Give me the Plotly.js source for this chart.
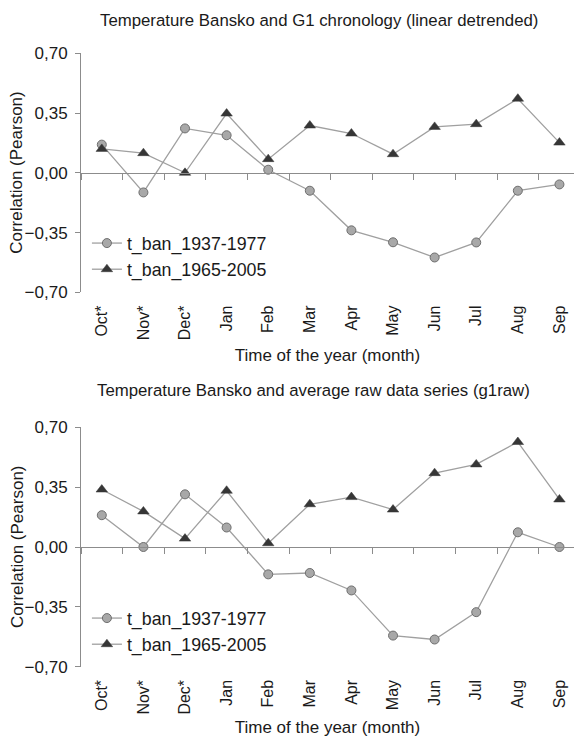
<!DOCTYPE html>
<html>
<head>
<meta charset="utf-8">
<script src="https://cdn.plot.ly/plotly-3.0.1.min.js"></script>
<style>html,body{margin:0;padding:0;background:#fff;}#chart{width:574px;height:739px;}</style>
</head>
<body>
<div id="chart"></div>
<script>
const months = ['Oct*','Nov*','Dec*','Jan','Feb','Mar','Apr','May','Jun','Jul','Aug','Sep'];
const seriesNames = ['t_ban_1937-1977','t_ban_1965-2005'];
const top1937 = [0.165, -0.115, 0.26, 0.22, 0.018, -0.105, -0.337, -0.407, -0.496, -0.408, -0.105, -0.068];
const top1965 = [0.14, 0.115, 0.0, 0.347, 0.08, 0.277, 0.23, 0.109, 0.269, 0.285, 0.434, 0.177];
const bot1937 = [0.186, 0.0, 0.308, 0.114, -0.16, -0.152, -0.254, -0.518, -0.541, -0.381, 0.086, 0.0];
const bot1965 = [0.336, 0.208, 0.049, 0.329, 0.022, 0.25, 0.292, 0.219, 0.432, 0.483, 0.614, 0.278];
const titles = ['Temperature Bansko and G1 chronology (linear detrended)',
                'Temperature Bansko and average raw data series (g1raw)'];
const xTitle = 'Time of the year (month)';
const yTitle = 'Correlation (Pearson)';

const W = 574, H = 739;
const FONT = 'Liberation Sans, Arial, Helvetica, sans-serif';
const TXT = '#1a1a1a';
const axisCol = '#8c8c8c';
const lineCol = '#a0a0a0';
const yRange = [-0.7, 0.7];
const xRange = [-0.5, 11.35];
const topDom = [1 - 292.3 / H, 1 - 53.3 / H];
const botDom = [1 - 666.7 / H, 1 - 427.3 / H];
function zeroPos(d) { return d[0] + (0 - yRange[0]) / (yRange[1] - yRange[0]) * (d[1] - d[0]); }

function circ(x, y, xa, ya, lg) {
  return {x: x, y: y, xaxis: xa, yaxis: ya, type: 'scatter', mode: 'lines+markers',
    name: seriesNames[0], legend: lg, showlegend: true,
    line: {color: lineCol, width: 1.3},
    marker: {symbol: 'circle', size: 9, color: '#a8a8a8', line: {color: '#6e6e6e', width: 1}}};
}
function tri(x, y, xa, ya, lg) {
  return {x: x, y: y, xaxis: xa, yaxis: ya, type: 'scatter', mode: 'lines+markers',
    name: seriesNames[1], legend: lg, showlegend: true,
    line: {color: lineCol, width: 1.3},
    marker: {symbol: 'triangle-up', size: 10, color: '#363636', line: {color: '#363636', width: 0.5}}};
}

const data = [
  circ(months, top1937, 'x', 'y', 'legend'),
  tri(months, top1965, 'x2', 'y', 'legend'),
  circ(months, bot1937, 'x3', 'y2', 'legend2'),
  tri(months, bot1965, 'x4', 'y2', 'legend2')
];

function labelAxis(anchor, standoff) {
  return {anchor: anchor, type: 'category', categoryorder: 'array', categoryarray: months,
    range: xRange, showline: false, ticks: '', showgrid: false, zeroline: false, automargin: false,
    tickangle: -90, tickfont: {family: FONT, size: 16, color: TXT},
    ticklabelstandoff: 9,
    title: {text: xTitle, font: {family: FONT, size: 17, color: TXT}, standoff: standoff}};
}
function zeroAxis(over, dom) {
  return {overlaying: over, anchor: 'free', position: zeroPos(dom), type: 'category',
    categoryorder: 'array', categoryarray: months, range: xRange, automargin: false,
    showline: true, linecolor: axisCol, linewidth: 1, ticks: 'outside', tickson: 'boundaries',
    ticklen: 6, tickcolor: axisCol, tickwidth: 1, showticklabels: false, showgrid: false, zeroline: false};
}
function yAxis(dom) {
  return {domain: dom, range: yRange, tick0: -0.7, dtick: 0.35, tickformat: '.2f', automargin: false,
    showline: true, linecolor: axisCol, linewidth: 1, ticks: 'outside', ticklen: 5,
    tickcolor: axisCol, showgrid: false, zeroline: false,
    tickfont: {family: FONT, size: 17, color: TXT}, ticklabelstandoff: 4};
}
function legendAt(yPix) {
  return {x: 0.012, xanchor: 'left', y: 1 - yPix / H, yanchor: 'top', yref: 'paper',
    bgcolor: 'rgba(0,0,0,0)', borderwidth: 0, itemwidth: 30, tracegroupgap: 0,
    font: {family: FONT, size: 17.8, color: TXT}};
}
function ann(text, xPix, yPix, size, angle) {
  return {text: text, xref: 'paper', yref: 'paper', x: (xPix - 81) / (W - 81), y: 1 - yPix / H,
    xanchor: 'center', yanchor: 'middle', showarrow: false, textangle: angle || 0,
    font: {family: FONT, size: size, color: TXT}};
}

const layout = {
  width: W, height: H, margin: {l: 81, r: 0, t: 0, b: 0, autoexpand: false},
  paper_bgcolor: '#fff', plot_bgcolor: '#fff', separators: ',.',
  font: {family: FONT, color: TXT},
  xaxis: labelAxis('y', 9),
  xaxis2: zeroAxis('x', topDom),
  xaxis3: labelAxis('y2', 7),
  xaxis4: zeroAxis('x3', botDom),
  yaxis: yAxis(topDom),
  yaxis2: yAxis(botDom),
  legend: legendAt(225),
  legend2: legendAt(600),
  annotations: [
    ann(titles[0], 319, 20, 16.8),
    ann(titles[1], 313, 391, 16.8),
    ann(yTitle, 17, (53.3 + 292.3) / 2, 17, -90),
    ann(yTitle, 17, (427.3 + 666.7) / 2, 17, -90)
  ]
};

Plotly.newPlot('chart', data, layout, {displayModeBar: false, staticPlot: true});
</script>
</body>
</html>
